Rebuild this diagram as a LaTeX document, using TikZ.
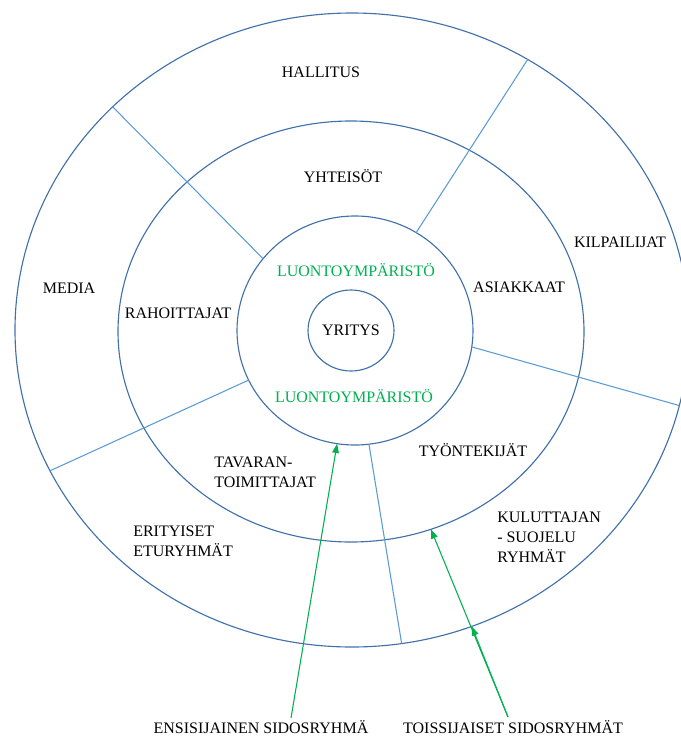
\documentclass[tikz,border=0pt]{standalone}
\usepackage{fontspec}
\setmainfont{Liberation Serif}
\usetikzlibrary{shapes.geometric,arrows.meta}
\definecolor{ringblue}{RGB}{65,113,170}
\definecolor{lineblue}{RGB}{91,155,213}
\definecolor{mygreen}{RGB}{0,176,80}
\begin{document}
\begin{tikzpicture}[x=0.75pt,y=-0.75pt,
  ring/.style={ellipse, draw=ringblue, line width=0.85pt, inner sep=0pt, outer sep=0pt},
  divider/.style={draw=lineblue, line width=0.8pt},
  lbl/.style={font=\fontsize{12}{15}\selectfont, inner sep=0pt, align=left, text=black},
  grn/.style={lbl, text=mygreen},
  arr/.style={draw=mygreen, line width=0.8pt, -{Triangle[length=7pt,width=5pt]}}]
\useasboundingbox (0,0) rectangle (681,736);
\clip (0,0) rectangle (681,736);
% rings
\node[ring, minimum width=505.5pt, minimum height=475.5pt] (outer) at (352,330) {};
\node[ring, minimum width=349.5pt, minimum height=315.75pt] (middle) at (351,331.5) {};
\node[ring, minimum width=177pt, minimum height=171.75pt] (inner) at (355,330.5) {};
\node[ring, minimum width=64.5pt, minimum height=60.75pt] (core) at (351,330.5) {};
% dividers
\draw[divider] (outer.137) -- (inner.142.35);
\draw[divider] (outer.57.8) -- (inner.58.2);
\draw[divider] (outer.-13.2) -- (inner.-8.4);
\draw[divider] (outer.205.2) -- (inner.205.1);
\draw[divider] (outer.-81.95) -- (inner.-83.1);
% labels
\node[lbl] (hallitus) at (321,72) {HALLITUS};
\node[lbl] (yhteisot) at (343,176) {YHTEISÖT};
\node[lbl] (kilpailijat) at (620,242) {KILPAILIJAT};
\node[lbl] (media) at (69,288) {MEDIA};
\node[grn] (luonto1) at (356,270) {LUONTOYMPÄRISTÖ};
\node[lbl] (asiakkaat) at (519,287) {ASIAKKAAT};
\node[lbl] (rahoittajat) at (178,313) {RAHOITTAJAT};
\node[lbl] (yritys) at (351,330) {YRITYS};
\node[grn] (luonto2) at (354,396) {LUONTOYMPÄRISTÖ};
\node[lbl] (tyontekijat) at (473,450) {TYÖNTEKIJÄT};
\node[lbl, anchor=west] (tavaran) at (214,472) {TAVARAN-\\TOIMITTAJAT};
\node[lbl, anchor=west] (erityiset) at (133,541.5) {ERITYISET\\ETURYHMÄT};
\node[lbl, anchor=west] (kuluttajan) at (497,537.5) {KULUTTAJAN\\- SUOJELU\\RYHMÄT};
\node[lbl] (ensi) at (261,727) {ENSISIJAINEN SIDOSRYHMÄ};
\node[lbl] (toissi) at (513,727) {TOISSIJAISET SIDOSRYHMÄT};
% arrows
\coordinate (ensistart) at (291,718);
\coordinate (toisstart) at (508,717);
\draw[arr] (ensistart) -- (inner.261.1);
\draw[arr] (toisstart) -- (middle.-68.55);
\draw[arr] (toisstart) -- (outer.-68.86);
\end{tikzpicture}
\end{document}
